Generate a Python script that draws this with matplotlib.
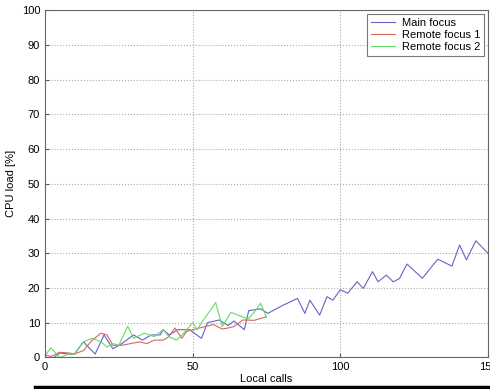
import matplotlib.pyplot as plt
from matplotlib.lines import Line2D

plt.rcParams['font.family'] = ['Liberation Sans', 'DejaVu Sans']

# Main focus
main_x = [0, 3, 5, 8, 10, 13, 17, 20, 23, 26, 30, 33, 36, 39, 40, 42, 45, 49,
          53, 55, 59, 62, 64, 67.5, 69, 73, 75.5, 80.5, 85.5, 88, 89.7, 93,
          95.5, 97.5, 100, 102.5, 105.7, 107.8, 110.9, 112.8, 115.6, 117.9,
          120, 122.6, 127.8, 133, 137.8, 140.4, 142.7, 145.9, 150]
main_y = [0, 0, 1.3, 1, 1, 4.5, 1, 6.5, 2.5, 4, 6.5, 5, 6.5, 6.5, 8, 6.5, 8, 8,
          5.5, 10, 10.8, 9.2, 10.5, 8, 13.5, 14, 12.7, 15, 17, 12.7, 16.5, 12.2,
          17.5, 16.5, 19.5, 18.5, 21.8, 19.9, 24.7, 21.8, 23.7, 21.8,
          22.7, 26.9, 22.8, 28.3, 26.3, 32.4, 28.1, 33.6, 30]

# Remote focus 1
rem1_x = [0, 2, 5, 8, 10, 13, 16, 19, 21, 23, 26, 29, 32, 34.5, 37, 40, 42, 44,
          46.3, 48, 50, 54.7, 57, 60, 61.5, 64, 67, 70.8, 75]
rem1_y = [0.7, 0.3, 1.5, 1.3, 1, 2, 5, 7, 6.5, 3.5, 3.5, 4, 4.5, 4, 5, 5, 6, 8.5,
          5.5, 7.5, 8, 9, 9.5, 8.2, 8.4, 8.9, 10.8, 10.7, 11.7]

# Remote focus 2
rem2_x = [0, 2, 5, 8, 10, 13, 16, 19, 21, 23, 25, 28, 30, 33.5, 37, 40, 42, 44.6,
          47, 50, 51.5, 53, 57.8, 60, 63, 66, 68.8, 71, 73, 75]
rem2_y = [0.5, 2.8, 0, 1, 1, 4.5, 5.5, 4.5, 3, 4, 3.5, 9, 5.5, 7, 6, 8, 6, 5,
          7, 10, 8, 10, 15.8, 8.9, 13, 12, 11.1, 13.2, 15.6, 11.7]

fig = plt.figure(figsize=(4.9, 3.89), dpi=100)
ax = fig.add_axes([0.0918, 0.081, 0.904, 0.893])

ax.plot(main_x, main_y, color='#6464c8', lw=0.8, label='Main focus')
ax.plot(rem1_x, rem1_y, color='#d86464', lw=0.8, label='Remote focus 1')
ax.plot(rem2_x, rem2_y, color='#64dc64', lw=0.8, label='Remote focus 2')

ax.set_xlim(0, 150)
ax.set_ylim(0, 100)
ax.set_xticks([0, 50, 100, 150])
ax.set_yticks(range(0, 101, 10))
ax.grid(True, linestyle=':', color='#aaaaaa', lw=0.8)
ax.tick_params(direction='in', labelsize=8, length=3, color='#555555')
for s in ax.spines.values():
    s.set_color('#666666')
    s.set_linewidth(0.8)

ax.set_xlabel('Local calls', fontsize=8, labelpad=1)
ax.set_ylabel('CPU load [%]', fontsize=8, labelpad=4)

leg = ax.legend(loc='upper right', fontsize=8, fancybox=False, framealpha=1,
                edgecolor='#777777', borderaxespad=0.35, handlelength=2.2,
                handletextpad=0.6, borderpad=0.35, labelspacing=0.2)
leg.get_frame().set_linewidth(0.8)

fig.add_artist(Line2D([0.071, 1.0], [0.005, 0.005], color='black', lw=2.5,
                      transform=fig.transFigure))

plt.savefig('out.png', dpi=100)
